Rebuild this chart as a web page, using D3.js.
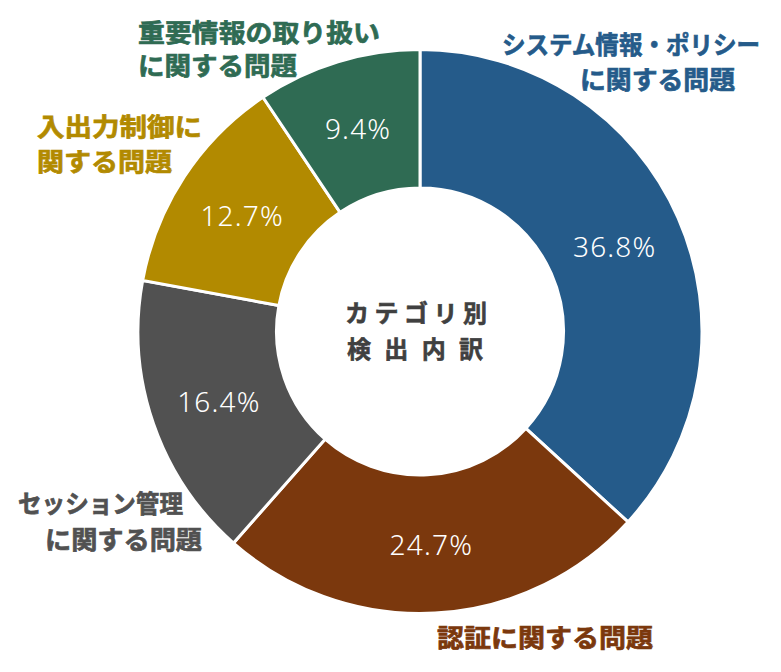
<!DOCTYPE html>
<html><head><meta charset="utf-8">
<script src="https://cdn.jsdelivr.net/npm/d3@7"></script>
<style>html,body{margin:0;padding:0;background:#fff;}svg{display:block;}</style>
</head><body>
<script>
const categories = ["システム情報・ポリシーに関する問題","認証に関する問題","セッション管理に関する問題","入出力制御に関する問題","重要情報の取り扱いに関する問題"];
const values = [36.8, 24.7, 16.4, 12.7, 9.4];
const colors = ["#255B8A", "#7B380D", "#515151", "#B28A00", "#2F6B53"];
const labelLines = [
  ["システム情報・ポリシー", "に関する問題"],
  ["認証に関する問題"],
  ["セッション管理", "に関する問題"],
  ["入出力制御に", "関する問題"],
  ["重要情報の取り扱い", "に関する問題"]
];
const centerLines = ["カテゴリ別", "検出内訳"];

// layout (positions of category labels: [x start, y center, width])
const labelLayout = [
  [[502, 43, 258], [580, 78, 155]],
  [[437, 636, 216]],
  [[18, 502, 165], [45, 538, 157]],
  [[37, 125, 165], [37, 160, 135]],
  [[138, 31, 242], [138, 64, 159]]
];

const W = 781, H = 672, cx = 420, cy = 331.5, rOuter = 282, rInner = 143.5;
const svg = d3.select("body").append("svg").attr("width", W).attr("height", H);
const g = svg.append("g").attr("transform", `translate(${cx},${cy})`);

const pie = d3.pie().sort(null).value(d => d)(values);
const arc = d3.arc().innerRadius(rInner).outerRadius(rOuter);

g.selectAll("path.slice").data(pie).enter().append("path")
  .attr("class", "slice")
  .attr("d", arc)
  .attr("fill", (d, i) => colors[i])
  .attr("stroke", "#fff").attr("stroke-width", 3).attr("stroke-linejoin", "miter");

g.selectAll("text.pct").data(pie).enter().append("text")
  .attr("class", "pct")
  .attr("transform", d => `translate(${arc.centroid(d)})`)
  .attr("text-anchor", "middle").attr("dominant-baseline", "central")
  .attr("font-family", "'Noto Sans', 'DejaVu Sans', sans-serif")
  .attr("font-weight", 300)
  .attr("font-size", 28).attr("fill", "#fff")
  .attr("letter-spacing", 1.2)
  .text(d => d.data.toFixed(1) + "%");

// category labels
labelLines.forEach((lines, i) => {
  lines.forEach((ln, j) => {
    const [x, y, w] = labelLayout[i][j];
    svg.append("text")
      .attr("x", x).attr("y", y)
      .attr("dominant-baseline", "central")
      .attr("font-family", "'Noto Sans CJK JP', sans-serif")
      .attr("font-weight", 700).attr("font-size", 25)
      .attr("fill", colors[i])
      .attr("stroke", colors[i]).attr("stroke-width", 0.7)
      .attr("textLength", w).attr("lengthAdjust", "spacingAndGlyphs")
      .text(ln);
  });
});

// center title
const centerLayout = [[345, 311, 142], [347, 347, 136]];
centerLines.forEach((ln, j) => {
  const [x, y, w] = centerLayout[j];
  svg.append("text")
    .attr("x", x).attr("y", y)
    .attr("dominant-baseline", "central")
    .attr("font-family", "'Noto Sans CJK JP', sans-serif")
    .attr("font-weight", 700).attr("font-size", 24)
    .attr("fill", "#404040")
    .attr("stroke", "#404040").attr("stroke-width", 0.6)
    .attr("textLength", w).attr("lengthAdjust", "spacing")
    .text(ln);
});
</script>
</body></html>
